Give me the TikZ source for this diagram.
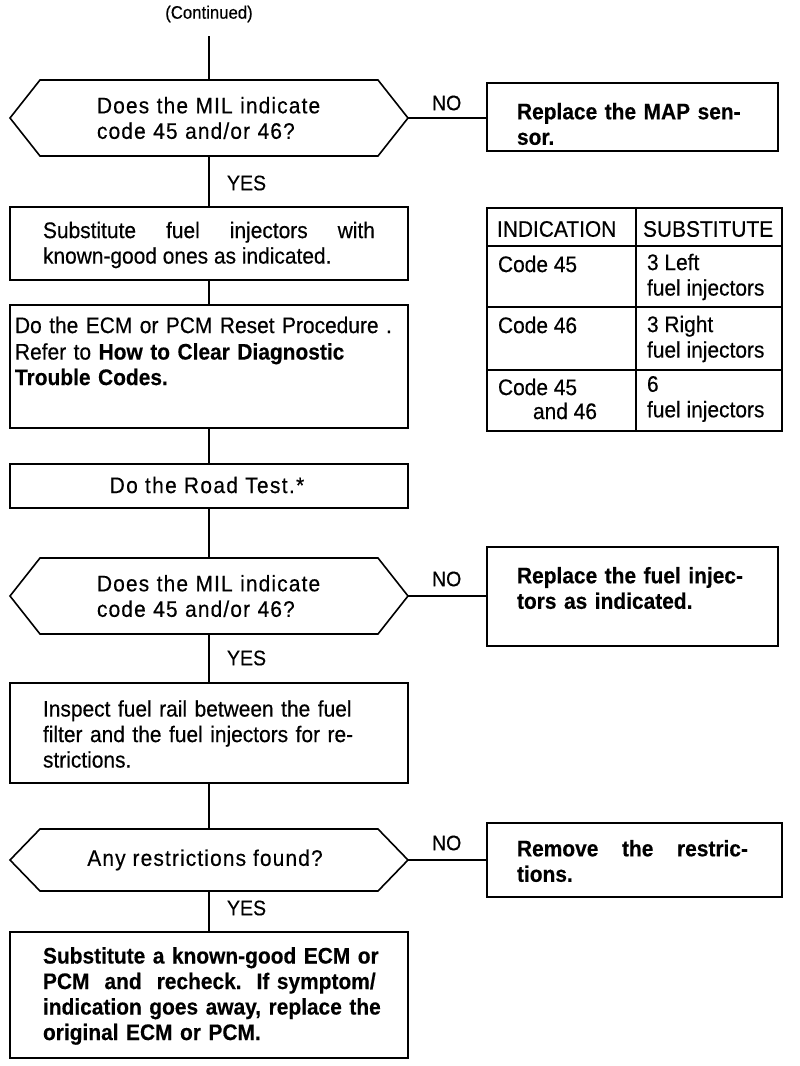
\documentclass[tikz,border=0pt]{standalone}
\usepackage{fontspec}
\setmainfont[FakeStretch=0.93, UprightFeatures={FakeBold=0.4}, BoldFeatures={FakeBold=0.3}]{Liberation Sans}
\usetikzlibrary{calc}
\newcommand\myTrack[1]{\addfontfeature{LetterSpace=#1}}
\begin{document}
\begin{tikzpicture}[x=1pt,y=-1pt,
  txt/.style={font=\fontsize{22.5}{25.5}\selectfont, inner sep=0pt, outer sep=0pt},
  btxt/.style={font=\fontsize{22.5}{25.5}\selectfont\bfseries, inner sep=0pt, outer sep=0pt},
  lbl/.style={font=\fontsize{21}{24}\selectfont, inner sep=0pt, outer sep=0pt},
  frame/.style={draw, line width=1.6pt, inner sep=0pt, outer sep=0pt, rectangle},
  hexbody/.style={inner sep=0pt, outer sep=0pt, rectangle},
  hexline/.style={draw, line width=1.6pt, line join=miter},
  conn/.style={draw, line width=1.6pt},
  gridline/.style={draw, line width=1.8pt},
]
\useasboundingbox[fill=white] (0,0) rectangle (800,1066);

% ---------- top ----------
\node[lbl, font=\fontsize{18}{21}\selectfont] (cont) at (209,14) {(Continued)};

% hexagon 1
\node[hexbody, minimum width=338pt, minimum height=76pt] (h1) at (209,118) {};
\coordinate (h1l) at ($(h1.west)+(-30,0)$);
\coordinate (h1r) at ($(h1.east)+(30,0)$);
\draw[hexline] (h1.north west) -- (h1.north east) -- (h1r) -- (h1.south east) -- (h1.south west) -- (h1l) -- cycle;
\node[txt, text width=230pt, align=left] (h1t) at (212,118) {\myTrack{5}Does the MIL indicate\\code 45 and/or 46?};

\node[frame, minimum width=291pt, minimum height=68pt] (map) at (632.5,117) {};
\node[btxt, anchor=west, text width=250pt, align=left] (mapt) at (517,124) {Replace the MAP sen-\\sor.};
\node[lbl, anchor=west] (no1) at (432,103) {NO};
\node[lbl, anchor=west] (yes1) at (227,183) {YES};

% box 2
\node[frame, minimum width=398pt, minimum height=73pt] (b2) at (209,243.5) {};
\node[txt, text width=332pt, align=justify] (b2t) at (209,245) {Substitute fuel injectors with\linebreak known-good ones as indicated.};

% box 3
\node[frame, minimum width=398pt, minimum height=123pt] (b3) at (209,366.5) {};
\node[txt, anchor=west, text width=392pt, align=left] (b3t) at (15,351) {Do the ECM or PCM Reset Procedure .\\[1pt]Refer to \textbf{How to Clear Diagnostic}\\\textbf{Trouble Codes.}};

% box 4
\node[frame, minimum width=398pt, minimum height=44pt] (b4) at (209,486) {};
\node[txt] (b4t) at (207,485) {\myTrack{6}Do the Road Test.*};

% hexagon 2
\node[hexbody, minimum width=338pt, minimum height=76pt] (h2) at (209,596) {};
\coordinate (h2l) at ($(h2.west)+(-30,0)$);
\coordinate (h2r) at ($(h2.east)+(30,0)$);
\draw[hexline] (h2.north west) -- (h2.north east) -- (h2r) -- (h2.south east) -- (h2.south west) -- (h2l) -- cycle;
\node[txt, text width=230pt, align=left] (h2t) at (212,596) {\myTrack{5}Does the MIL indicate\\code 45 and/or 46?};

\node[frame, minimum width=291pt, minimum height=99pt] (fuel) at (632.5,596.5) {};
\node[btxt, anchor=west, text width=250pt, align=left] (fuelt) at (517,588) {Replace the fuel injec-\\tors as indicated.};
\node[lbl, anchor=west] (no2) at (432,579) {NO};
\node[lbl, anchor=west] (yes2) at (227,658) {YES};

% box 5
\node[frame, minimum width=398pt, minimum height=100pt] (b5) at (209,733) {};
\node[txt, anchor=west, text width=355pt, align=left] (b5t) at (43,734) {Inspect fuel rail between the fuel\\filter and the fuel injectors for re-\\strictions.};

% hexagon 3
\node[hexbody, minimum width=338pt, minimum height=62pt] (h3) at (209,860) {};
\coordinate (h3l) at ($(h3.west)+(-30,0)$);
\coordinate (h3r) at ($(h3.east)+(30,0)$);
\draw[hexline] (h3.north west) -- (h3.north east) -- (h3r) -- (h3.south east) -- (h3.south west) -- (h3l) -- cycle;
\node[txt] (h3t) at (205,860) {\myTrack{5}Any restrictions found?};

\node[frame, minimum width=295pt, minimum height=74pt] (rem) at (634.5,860) {};
\node[btxt, anchor=west, text width=231pt, align=justify] (remt) at (517,861) {Remove the restric-\linebreak tions.};
\node[lbl, anchor=west] (no3) at (432,843) {NO};
\node[lbl, anchor=west] (yes3) at (227,908) {YES};

% box 6
\node[frame, minimum width=398pt, minimum height=126pt] (b6) at (209,995) {};
\node[btxt, anchor=west, text width=355pt, align=left] (b6t) at (43,996) {Substitute a known-good ECM or\\PCM\ \ and\ \ recheck.\ \ If symptom/\\indication goes away, replace the\\original ECM or PCM.};

% ---------- table ----------
\node[draw, line width=2.6pt, inner sep=0pt, outer sep=0pt, minimum width=295pt, minimum height=223pt] (tab) at (634.5,319.5) {};
\draw[gridline] (636,208) -- (636,431);
\draw[gridline] (487,246) -- (782,246);
\draw[gridline] (487,307) -- (782,307);
\draw[gridline] (487,370) -- (782,370);
\node[txt, anchor=west] (c11) at (497,229) {INDICATION};
\node[txt, anchor=west] (c12) at (643,229) {SUBSTITUTE};
\node[txt, anchor=west, align=left] (c21) at (498,264) {Code 45};
\node[txt, anchor=west, align=left] (c22) at (647,277) {3 Left\\fuel injectors};
\node[txt, anchor=west, align=left] (c31) at (498,325) {Code 46};
\node[txt, anchor=west, align=left] (c32) at (647,339) {3 Right\\fuel injectors};
\node[txt, anchor=west, align=left] (c41) at (498,387) {Code 45};
\node[txt, anchor=west, align=left] (c41b) at (533,411) {and 46};
\node[txt, anchor=west, align=left] (c42) at (647,399) {6\\fuel injectors};

% ---------- connectors ----------
\draw[conn] ([yshift=-14pt]cont.south) -- (h1.north);
\draw[conn] (h1r) -- (h1r -| map.west);
\draw[conn] (h1.south) -- (b2.north);
\draw[conn] (b2.south) -- (b3.north);
\draw[conn] (b3.south) -- (b4.north);
\draw[conn] (b4.south) -- (h2.north);
\draw[conn] (h2r) -- (h2r -| fuel.west);
\draw[conn] (h2.south) -- (b5.north);
\draw[conn] (b5.south) -- (h3.north);
\draw[conn] (h3r) -- (h3r -| rem.west);
\draw[conn] (h3.south) -- (b6.north);
\end{tikzpicture}
\end{document}
